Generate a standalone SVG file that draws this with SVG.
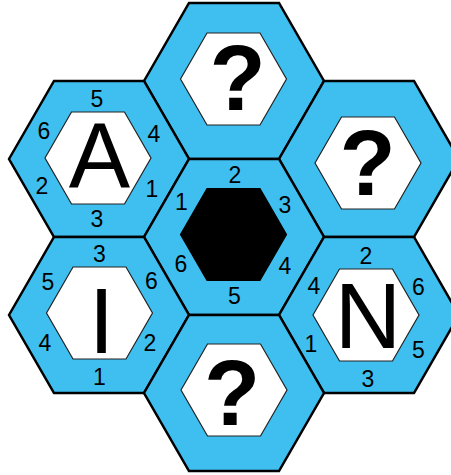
<svg xmlns="http://www.w3.org/2000/svg" xmlns:xlink="http://www.w3.org/1999/xlink" width="451" height="475" viewBox="0 0 451 475">
<style>
.outer{fill:#3FBFF0;stroke:#000;stroke-width:2.5;stroke-linejoin:miter}
.inner{fill:#fff;stroke:#222;stroke-width:1.2}
.black{fill:#000;stroke:#000;stroke-width:1.2}
.num{font-family:"Liberation Sans",Arial,sans-serif;font-size:23px;fill:#000;text-anchor:middle}
.big{font-family:"Liberation Sans",Arial,sans-serif;font-size:92px;fill:#000;text-anchor:middle}
.q{font-family:"Liberation Sans",Arial,sans-serif;font-size:92px;font-weight:bold;fill:#000;text-anchor:middle}
</style>
<defs>
<polygon id="hexO" points="-90,0 -45,-78 45,-78 90,0 45,78 -45,78"/>
<polygon id="hexI" points="-53,0 -26.5,-46 26.5,-46 53,0 26.5,46 -26.5,46"/>
</defs>
<rect width="451" height="475" fill="#fff"/>
<g id="hex-top">
<use xlink:href="#hexO" href="#hexO" x="234" y="81" class="outer"/>
<use xlink:href="#hexI" href="#hexI" x="233.5" y="79" class="inner"/>
<text class="q" x="237.5" y="110">?</text>
</g>
<g id="hex-A">
<use xlink:href="#hexO" href="#hexO" x="99" y="159" class="outer"/>
<use xlink:href="#hexI" href="#hexI" x="98" y="158" class="inner"/>
<text class="big" x="99.5" y="188">A</text>
<text class="num" x="97" y="107">5</text>
<text class="num" x="44" y="139">6</text>
<text class="num" x="154" y="142">4</text>
<text class="num" x="42" y="194">2</text>
<text class="num" x="152" y="197">1</text>
<text class="num" x="97" y="227">3</text>
</g>
<g id="hex-right">
<use xlink:href="#hexO" href="#hexO" x="369" y="159" class="outer"/>
<use xlink:href="#hexI" href="#hexI" x="368" y="163" class="inner"/>
<text class="q" x="367.5" y="195">?</text>
</g>
<g id="hex-center">
<use xlink:href="#hexO" href="#hexO" x="234" y="237" class="outer"/>
<use xlink:href="#hexI" href="#hexI" x="233.5" y="234.5" class="black"/>
<text class="num" x="235" y="183">2</text>
<text class="num" x="181.5" y="210">1</text>
<text class="num" x="285" y="213">3</text>
<text class="num" x="181" y="272">6</text>
<text class="num" x="285" y="274">4</text>
<text class="num" x="234.5" y="304">5</text>
</g>
<g id="hex-I">
<use xlink:href="#hexO" href="#hexO" x="99" y="315" class="outer"/>
<use xlink:href="#hexI" href="#hexI" x="99.5" y="313" class="inner"/>
<text class="big" x="101.5" y="353">I</text>
<text class="num" x="99.5" y="262">3</text>
<text class="num" x="48" y="290">5</text>
<text class="num" x="151.5" y="289">6</text>
<text class="num" x="45" y="351">4</text>
<text class="num" x="150" y="351">2</text>
<text class="num" x="99.5" y="385">1</text>
</g>
<g id="hex-N">
<use xlink:href="#hexO" href="#hexO" x="369" y="315" class="outer"/>
<use xlink:href="#hexI" href="#hexI" x="366" y="315" class="inner"/>
<text class="big" x="368" y="348">N</text>
<text class="num" x="366" y="264">2</text>
<text class="num" x="314" y="294">4</text>
<text class="num" x="418.5" y="295">6</text>
<text class="num" x="311" y="352">1</text>
<text class="num" x="418.5" y="358">5</text>
<text class="num" x="368" y="387">3</text>
</g>
<g id="hex-bottom">
<use xlink:href="#hexO" href="#hexO" x="234" y="393" class="outer"/>
<use xlink:href="#hexI" href="#hexI" x="234" y="390" class="inner"/>
<text class="q" x="232" y="425">?</text>
</g>
<g id="connectors"></g>
</svg>
